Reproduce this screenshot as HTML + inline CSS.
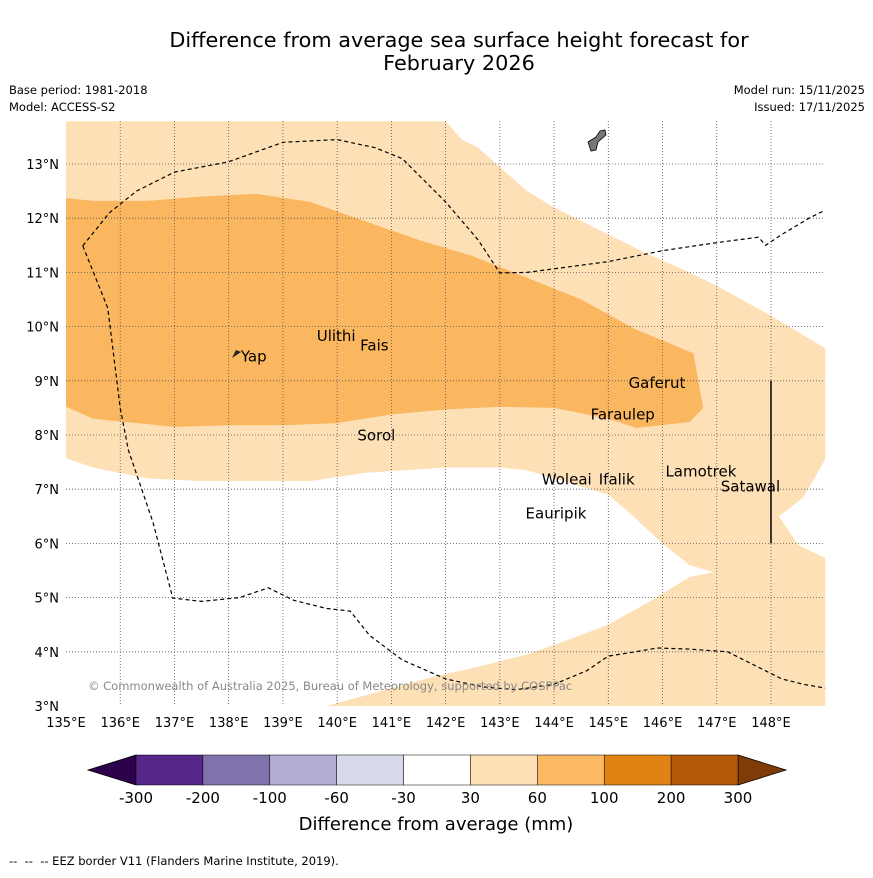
<!DOCTYPE html>
<html><head><meta charset="utf-8"><style>
body{margin:0;background:#fff;font-family:"Liberation Sans","DejaVu Sans",sans-serif}
svg text{font-family:"DejaVu Sans","Liberation Sans",sans-serif}
</style></head><body>
<svg id="c" width="873" height="873" xmlns="http://www.w3.org/2000/svg">
<rect width="873" height="873" fill="#fff"/>
<text x="459" y="47" font-size="20.8" text-anchor="middle">Difference from average sea surface height forecast for</text>
<text x="459" y="70" font-size="20.8" text-anchor="middle">February 2026</text>
<text x="9" y="94" font-size="11.5">Base period: 1981-2018</text>
<text x="9" y="111" font-size="11.5">Model: ACCESS-S2</text>
<text x="865" y="94" font-size="11.5" text-anchor="end">Model run: 15/11/2025</text>
<text x="865" y="111" font-size="11.5" text-anchor="end">Issued: 17/11/2025</text>
<g id="map"></g>
<g id="cb"></g>
<text x="436" y="830" font-size="18" text-anchor="middle">Difference from average (mm)</text>
<text x="9" y="865" font-size="11.5" xml:space="preserve">--  --  -- EEZ border V11 (Flanders Marine Institute, 2019).</text>
</svg>
<script>
const lonTicks=[135,136,137,138,139,140,141,142,143,144,145,146,147,148];
const latTicks=[3,4,5,6,7,8,9,10,11,12,13];
const lightRegion=[[135,13.79],[142,13.79],[142.3,13.45],[142.6,13.3],[143.5,12.5],[144,12.2],[145,11.7],[145.7,11.35],[146.5,11.0],[147,10.75],[148,10.2],[149,9.6],[149,7.55],[148.6,6.85],[148.15,6.5],[148.5,5.97],[149,5.73],[149,3],[139.8,3],[140.9,3.3],[141.8,3.55],[142.5,3.7],[143.5,3.95],[144.2,4.2],[145,4.5],[145.8,4.95],[146.5,5.38],[146.94,5.47],[146.5,5.6],[146,6.0],[145.46,6.5],[145,6.9],[144,7.2],[143.5,7.35],[143,7.4],[142,7.4],[140.5,7.3],[139.5,7.15],[137.5,7.15],[136.5,7.2],[135.5,7.4],[135,7.57]];
const medRegion=[[135,12.37],[135.5,12.32],[136.5,12.32],[137.5,12.4],[138.5,12.45],[139.5,12.3],[140.5,11.95],[141.5,11.6],[142.5,11.3],[143.5,10.9],[144.5,10.5],[145.5,9.95],[146.57,9.51],[146.75,8.5],[146.5,8.24],[145.52,8.13],[145,8.3],[144,8.5],[143,8.52],[142,8.47],[141,8.38],[140,8.22],[139,8.18],[138,8.18],[137,8.15],[135.5,8.3],[135,8.52]];
const eezNorth=[[135.31,11.49],[135.8,12.1],[136.3,12.5],[137,12.85],[138,13.04],[139,13.4],[140,13.45],[140.7,13.3],[141.2,13.1],[142,12.3],[142.6,11.6],[143,10.99],[143.5,11.0],[145,11.2],[146,11.4],[147,11.55],[147.77,11.65],[147.9,11.5],[148.2,11.7],[148.7,12.0],[149,12.15]];
const eezSouth=[[135.31,11.49],[135.77,10.34],[136,8.5],[136.15,7.72],[136.6,6.4],[136.97,4.99],[137.5,4.93],[138.2,5.0],[138.73,5.18],[139.2,4.95],[139.8,4.8],[140.24,4.75],[140.6,4.3],[141.2,3.85],[142,3.5],[142.7,3.35],[143.3,3.3],[144,3.4],[144.6,3.65],[145,3.92],[145.5,4.0],[145.9,4.07],[146.5,4.05],[147.2,4.0],[147.7,3.75],[148.2,3.5],[148.6,3.4],[149,3.33]];
const islandNames=["Yap","Ulithi","Fais","Gaferut","Faraulep","Sorol","Woleai","Ifalik","Lamotrek","Satawal","Eauripik"];
const islandLon=[138.15,139.55,140.35,145.3,144.6,140.3,143.7,144.75,145.98,147.0,143.4];
const islandLat=[9.45,9.83,9.65,8.96,8.38,7.99,7.18,7.18,7.33,7.05,6.55];
const cbLabels=["-300","-200","-100","-60","-30","30","60","100","200","300"];
const cbColors=["#542788","#8073ac","#b2abd2","#d8daeb","#ffffff","#fee0b6","#fdb863","#e08214","#b35806"];
const NS="http://www.w3.org/2000/svg";
const X=l=>66+(l-135)*54.23, Y=l=>706-(l-3)*54.2;
function mk(t,a,p){const e=document.createElementNS(NS,t);for(const k in a)e.setAttribute(k,a[k]);p.appendChild(e);return e;}
const map=document.getElementById('map');
const pts=a=>a.map(p=>X(p[0]).toFixed(1)+','+Y(p[1]).toFixed(1)).join(' ');
let e=mk('polygon',{points:pts(lightRegion),fill:'#fee0b6'},map);


e=mk('polygon',{points:pts(medRegion),fill:'#fbb660'},map);


lonTicks.forEach(l=>{
 if(l>135){e=mk('line',{x1:X(l),x2:X(l),y1:121,y2:706,stroke:'#555','stroke-width':0.8,'stroke-dasharray':'1,2'},map);
 
 }
 e=mk('text',{x:X(l),y:727,'font-size':13,'text-anchor':'middle'},map);e.textContent=l+'°E';
 
 
});
latTicks.forEach(l=>{
 if(l>3){e=mk('line',{x1:66,x2:825,y1:Y(l),y2:Y(l),stroke:'#555','stroke-width':0.8,'stroke-dasharray':'1,2'},map);
 
 }
 e=mk('text',{x:59,y:Y(l)+5,'font-size':13,'text-anchor':'end'},map);e.textContent=l+'°N';
 
 
});
[eezNorth,eezSouth].forEach(a=>{e=mk('polyline',{points:pts(a),fill:'none',stroke:'#000','stroke-width':1.2,'stroke-dasharray':'4,3'},map);
 
 });
e=mk('line',{x1:X(148),x2:X(148),y1:Y(9),y2:Y(6),stroke:'#000','stroke-width':1.5},map);


e=mk('path',{d:'M588,142 L596,137 L600,131 L605,130 L606,135 L598,142 L596,150 L591,151 Z',fill:'#777',stroke:'#000','stroke-width':0.8},map);


e=mk('path',{d:'M232,358 L236,350 L241,352 L235,356 Z',fill:'#222'},map);


islandNames.forEach((n,i)=>{e=mk('text',{x:X(islandLon[i])+4,y:Y(islandLat[i])+5,'font-size':15},map);e.textContent=n;
 
 });
e=mk('text',{x:88,y:690,'font-size':11.5,fill:'#888'},map);e.textContent='© Commonwealth of Australia 2025, Bureau of Meteorology, supported by COSPPac';


const cb=document.getElementById('cb');
const cx0=136,cw=(738-136)/cbColors.length;
e=mk('polygon',{points:'136,755 88,770 136,785',fill:'#2d004b',stroke:'#000','stroke-width':0.8},cb);


e=mk('polygon',{points:'738,755 786,770 738,785',fill:'#7f3b08',stroke:'#000','stroke-width':0.8},cb);


cbColors.forEach((c,i)=>{e=mk('rect',{x:cx0+i*cw,y:755,width:cw,height:30,fill:c,stroke:'#000','stroke-width':0.5},cb);
 
 });
cbLabels.forEach((t,i)=>{e=mk('text',{x:cx0+i*cw,y:803,'font-size':15,'text-anchor':'middle'},cb);e.textContent=t;
 
 });
</script>
</body></html>
